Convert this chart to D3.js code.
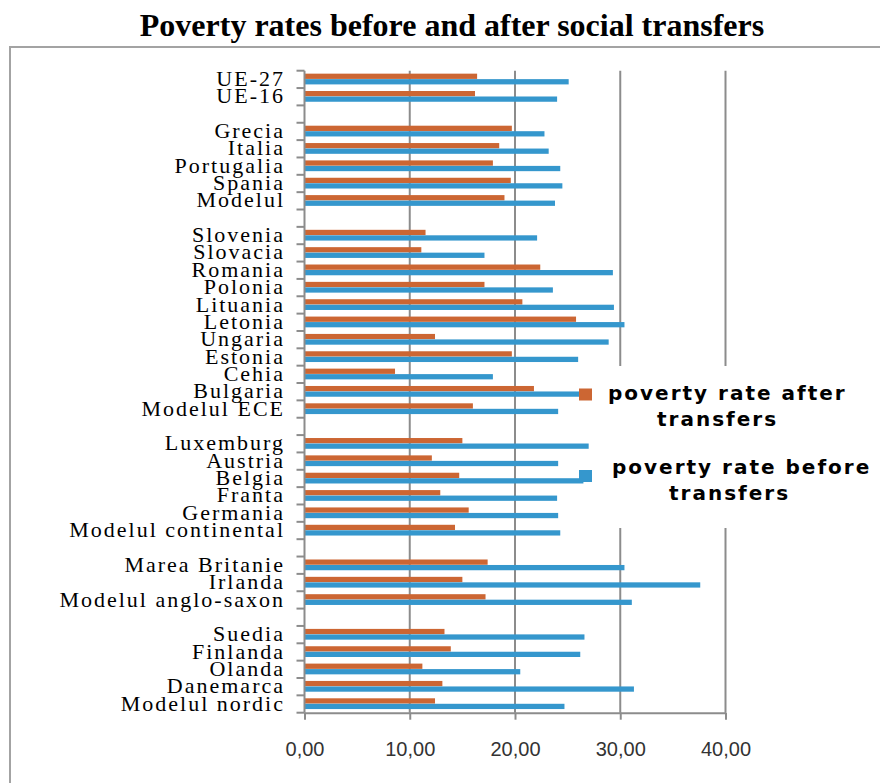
<!DOCTYPE html>
<html>
<head>
<meta charset="utf-8">
<script src="https://cdn.jsdelivr.net/npm/d3@7"></script>
<style>
  html, body { margin: 0; padding: 0; background: #fff; }
  svg { display: block; }
</style>
</head>
<body>
<svg id="chart" width="880" height="783"></svg>
<script>
// Countries and model groups, top to bottom; empty strings are spacer rows
const categories = [
  "UE-27", "UE-16", "",
  "Grecia", "Italia", "Portugalia", "Spania", "Modelul", "",
  "Slovenia", "Slovacia", "Romania", "Polonia", "Lituania", "Letonia",
  "Ungaria", "Estonia", "Cehia", "Bulgaria", "Modelul ECE", "",
  "Luxemburg", "Austria", "Belgia", "Franta", "Germania", "Modelul continental", "",
  "Marea Britanie", "Irlanda", "Modelul anglo-saxon", "",
  "Suedia", "Finlanda", "Olanda", "Danemarca", "Modelul nordic"
];

// Poverty rate after social transfers (%)
const afterTransfers = [
  16.4, 16.2, null,
  19.7, 18.5, 17.9, 19.6, 19.0, null,
  11.5, 11.1, 22.4, 17.1, 20.7, 25.8, 12.4, 19.7, 8.6, 21.8, 16.0, null,
  15.0, 12.1, 14.7, 12.9, 15.6, 14.3, null,
  17.4, 15.0, 17.2, null,
  13.3, 13.9, 11.2, 13.1, 12.4
];

// Poverty rate before social transfers (%)
const beforeTransfers = [
  25.1, 24.0, null,
  22.8, 23.2, 24.3, 24.5, 23.8, null,
  22.1, 17.1, 29.3, 23.6, 29.4, 30.4, 28.9, 26.0, 17.9, 26.9, 24.1, null,
  27.0, 24.1, 26.5, 24.0, 24.1, 24.3, null,
  30.4, 37.6, 31.1, null,
  26.6, 26.2, 20.5, 31.3, 24.7
];

const xTicks = [0, 10, 20, 30, 40];

const seriesNames = ["poverty rate after transfers", "poverty rate before transfers"];
const seriesColors = ["#cc6633", "#3597cd"];
const seriesValues = [afterTransfers, beforeTransfers];

const svg = d3.select("#chart");
const gridColor = "#8c8c8c";

// Outer chart frame (extends past the right and bottom edges)
svg.append("path")
  .attr("d", "M10,790 L10,47 L890,47")
  .attr("fill", "none")
  .attr("stroke", "#a3a3a3")
  .attr("stroke-width", 2);

// Title
svg.append("text")
  .attr("x", 452)
  .attr("y", 36)
  .attr("text-anchor", "middle")
  .attr("font-family", "'Liberation Serif', 'Times New Roman', serif")
  .attr("font-weight", "bold")
  .attr("font-size", 32)
  .attr("fill", "#000")
  .text("Poverty rates before and after social transfers");

const plot = { left: 304.5, right: 725.5, top: 70.7, bottom: 712.7 };

const x = d3.scaleLinear().domain([0, 40]).range([plot.left, plot.right]);
const y = d3.scaleBand()
  .domain(d3.range(categories.length))
  .range([plot.top, plot.bottom])
  .padding(0);
const bw = y.bandwidth();
const ySub = d3.scaleBand()
  .domain(d3.range(seriesNames.length))
  .range([bw * 0.17, bw * 0.79])
  .paddingInner(0.04);

// Vertical gridlines
svg.append("g")
  .selectAll("line")
  .data(xTicks.filter(d => d > 0))
  .join("line")
  .attr("x1", d => x(d))
  .attr("x2", d => x(d))
  .attr("y1", plot.top)
  .attr("y2", plot.bottom)
  .attr("stroke", gridColor)
  .attr("stroke-width", 2);

// Bars
seriesValues.forEach((vals, s) => {
  svg.append("g")
    .selectAll("rect")
    .data(vals.map((v, i) => ({ v, i })).filter(d => d.v !== null))
    .join("rect")
    .attr("x", x(0))
    .attr("y", d => y(d.i) + ySub(s))
    .attr("width", d => x(d.v) - x(0))
    .attr("height", ySub.bandwidth())
    .attr("fill", seriesColors[s]);
});

// Bottom axis
const xAxis = d3.axisBottom(x)
  .tickValues(xTicks)
  .tickSize(7)
  .tickSizeOuter(0)
  .tickFormat(d => d3.format(".2f")(d).replace(".", ","));

const gx = svg.append("g")
  .attr("transform", `translate(0,${plot.bottom})`)
  .call(xAxis);
gx.select(".domain").attr("stroke", gridColor).attr("stroke-width", 2);
gx.selectAll(".tick line").attr("stroke", gridColor).attr("stroke-width", 2);
gx.selectAll(".tick text")
  .attr("y", 43)
  .attr("dy", 0)
  .attr("font-family", "'Liberation Sans', Arial, sans-serif")
  .attr("font-size", 20)
  .attr("fill", "#333");

// Left axis: line, boundary ticks and category labels
const gy = svg.append("g");
gy.append("line")
  .attr("x1", plot.left).attr("x2", plot.left)
  .attr("y1", plot.top).attr("y2", plot.bottom)
  .attr("stroke", gridColor).attr("stroke-width", 2);

const boundaries = d3.range(categories.length).map(i => y(i)).concat([y(categories.length - 1) + bw]);
gy.selectAll("line.tick")
  .data(boundaries)
  .join("line")
  .attr("class", "tick")
  .attr("x1", plot.left - 8).attr("x2", plot.left)
  .attr("y1", d => d).attr("y2", d => d)
  .attr("stroke", gridColor).attr("stroke-width", 2);

gy.selectAll("text")
  .data(categories.map((c, i) => ({ c, i })).filter(d => d.c !== ""))
  .join("text")
  .attr("x", 285)
  .attr("y", d => y(d.i) + bw / 2)
  .attr("dy", "0.3em")
  .attr("text-anchor", "end")
  .attr("font-family", "'Liberation Serif', 'Times New Roman', serif")
  .attr("font-size", 22)
  .attr("letter-spacing", 2)
  .attr("fill", "#000")
  .text(d => d.c);

// Legend
const legend = svg.append("g");
legend.append("rect")
  .attr("x", 600).attr("y", 366)
  .attr("width", 280).attr("height", 162)
  .attr("fill", "#fff");

const legendItems = [
  { s: 0, marker: [579, 388.5], lines: [["poverty rate after", 608, 400], ["transfers", 657, 426]] },
  { s: 1, marker: [579, 470], lines: [["poverty rate before", 612, 474], ["transfers", 669, 500]] }
];

legendItems.forEach(item => {
  legend.append("rect")
    .attr("x", item.marker[0]).attr("y", item.marker[1])
    .attr("width", 13).attr("height", 12)
    .attr("fill", seriesColors[item.s]);
  legend.append("g")
    .selectAll("text")
    .data(item.lines)
    .join("text")
    .attr("x", d => d[1])
    .attr("y", d => d[2])
    .attr("font-family", "'DejaVu Sans', Verdana, sans-serif")
    .attr("font-weight", "bold")
    .attr("font-size", 20)
    .attr("letter-spacing", 2)
    .attr("fill", "#000")
    .text(d => d[0]);
});
</script>
</body>
</html>
